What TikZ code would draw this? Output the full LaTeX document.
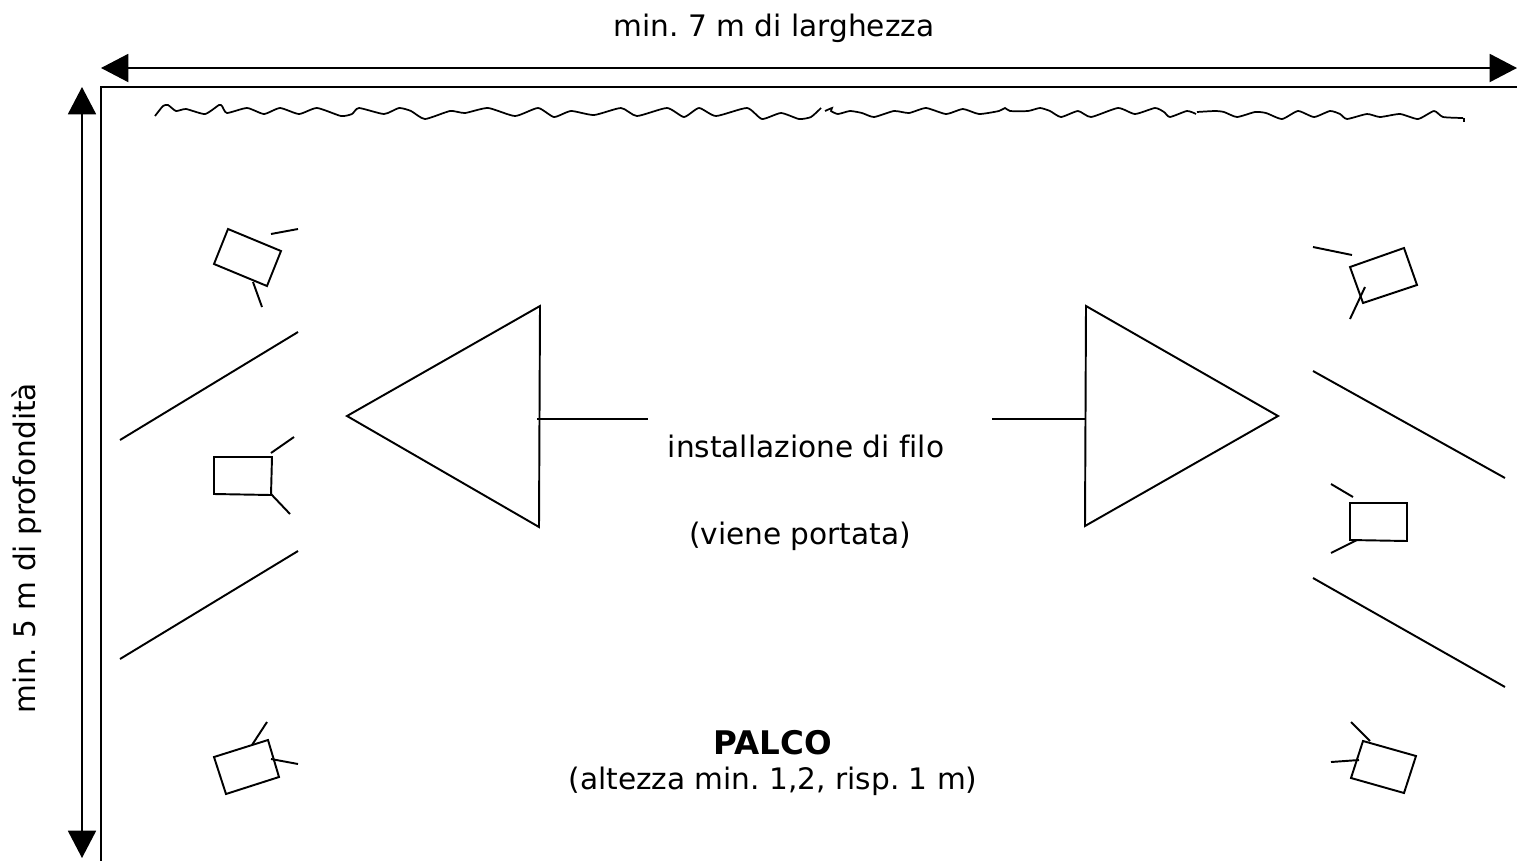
\documentclass[tikz,border=0pt]{standalone}
\usepackage{fontspec}
\setmainfont[Ligatures=NoCommon]{DejaVu Sans}
\usetikzlibrary{arrows.meta}
\tikzset{
  ink/.style={draw=black,line width=1.45pt,line join=miter},
  dim/.style={ink,{Triangle[length=20.5pt,width=21pt]}-{Triangle[length=20.5pt,width=21pt]}},
  wave/.style={draw=black,line width=1.3pt,smooth,tension=0.35},
  lab/.style={font=\fontsize{22.2pt}{26pt}\selectfont\frenchspacing,inner sep=0pt,text=black}
}
\begin{document}
\begin{tikzpicture}[x=0.75pt,y=-0.75pt]
\useasboundingbox (0,0) rectangle (1517,861);
% dimension arrows
\coordinate (tl) at (101,68); \coordinate (tr) at (1517,68);
\coordinate (lt) at (82,87); \coordinate (lb) at (82,858);
\draw[dim] (tl) -- (tr);
\draw[dim] (lt) -- (lb);
\draw[ink] (1517,87) -- (101,87) -- (101,861);
% curtain
\draw[wave] plot coordinates {(155,116) (163,106) (168,105) (176,111) (186,109) (205,114) (219,105) (222,106) (227,113) (247,108) (264,114) (280,108) (299,114) (317,108) (341,116) (352,114) (359,108) (384,114) (399,108) (411,111) (425,119) (450,111) (465,113) (488,108) (515,116) (538,108) (554,117) (571,111) (594,115) (621,108) (637,116) (667,108) (684,117) (699,108) (716,116) (747,108) (762,119) (781,113) (799,119) (811,117) (821,108)};
\draw[wave] plot coordinates {(825,111) (832,108) (831,111) (838,114) (850,111) (862,113) (874,117) (894,111) (909,113) (926,108) (946,114) (963,109) (979,114) (999,111) (1005,108) (1010,111) (1028,111) (1040,108) (1050,111) (1061,117) (1078,111) (1091,117) (1118,108) (1135,114) (1155,108) (1164,112) (1170,117) (1187,111) (1196,114)};
\draw[wave] plot coordinates {(1197,112) (1215,111) (1224,112) (1237,117) (1255,112) (1266,113) (1282,119) (1298,111) (1314,117) (1330,111) (1340,114) (1347,119) (1367,114) (1380,117) (1400,114) (1418,119) (1434,111) (1443,117) (1463,118)};
\draw[ink] (1464,118) -- (1464,122);
% left side
\draw[ink] (228,229) -- (281,251) -- (267,286) -- (214,264) -- cycle;
\draw[ink] (271,234) -- (298,229);
\draw[ink] (253,282) -- (262,307);
\draw[ink] (120,440) -- (298,332);
\draw[ink] (214,457) -- (272,457) -- (271,495) -- (214,494) -- cycle;
\draw[ink] (271,453) -- (294,437);
\draw[ink] (271,494) -- (290,514);
\draw[ink] (120,659) -- (298,551);
\draw[ink] (214,757) -- (268,740) -- (279,777) -- (226,794) -- cycle;
\draw[ink] (252,745) -- (267,722);
\draw[ink] (271,759) -- (298,764);
% right side
\draw[ink] (1350,267) -- (1404,248) -- (1417,285) -- (1363,303) -- cycle;
\draw[ink] (1313,247) -- (1352,255);
\draw[ink] (1365,287) -- (1350,319);
\draw[ink] (1313,371) -- (1505,478);
\draw[ink] (1350,503) -- (1407,503) -- (1407,541) -- (1350,540) -- cycle;
\draw[ink] (1331,484) -- (1353,497);
\draw[ink] (1331,553) -- (1357,540);
\draw[ink] (1313,578) -- (1505,687);
\draw[ink] (1363,741) -- (1416,756) -- (1404,793) -- (1351,778) -- cycle;
\draw[ink] (1351,722) -- (1370,741);
\draw[ink] (1331,762) -- (1359,760);
% triangles
\draw[ink] (540,306) -- (347,416) -- (539,527) -- cycle;
\draw[ink] (1086,306) -- (1278,416) -- (1085,526) -- cycle;
\draw[ink] (537,419) -- (648,419);
\draw[ink] (992,419) -- (1086,419);
% labels
\node[lab] (top) at (774,28) {min. 7 m di larghezza};
\node[lab,rotate=90] (side) at (27,548) {min. 5 m di profondità};
\node[lab] (inst) at (806,446) {installazione di filo};
\node[lab] (port) at (800,536) {(viene portata)};
\node[lab,font=\fontsize{24.4pt}{28pt}\selectfont\bfseries] (palco) at (773,743) {PALCO};
\node[lab] (alt) at (773,781) {(altezza min. 1,2, risp. 1 m)};
\end{tikzpicture}
\end{document}
